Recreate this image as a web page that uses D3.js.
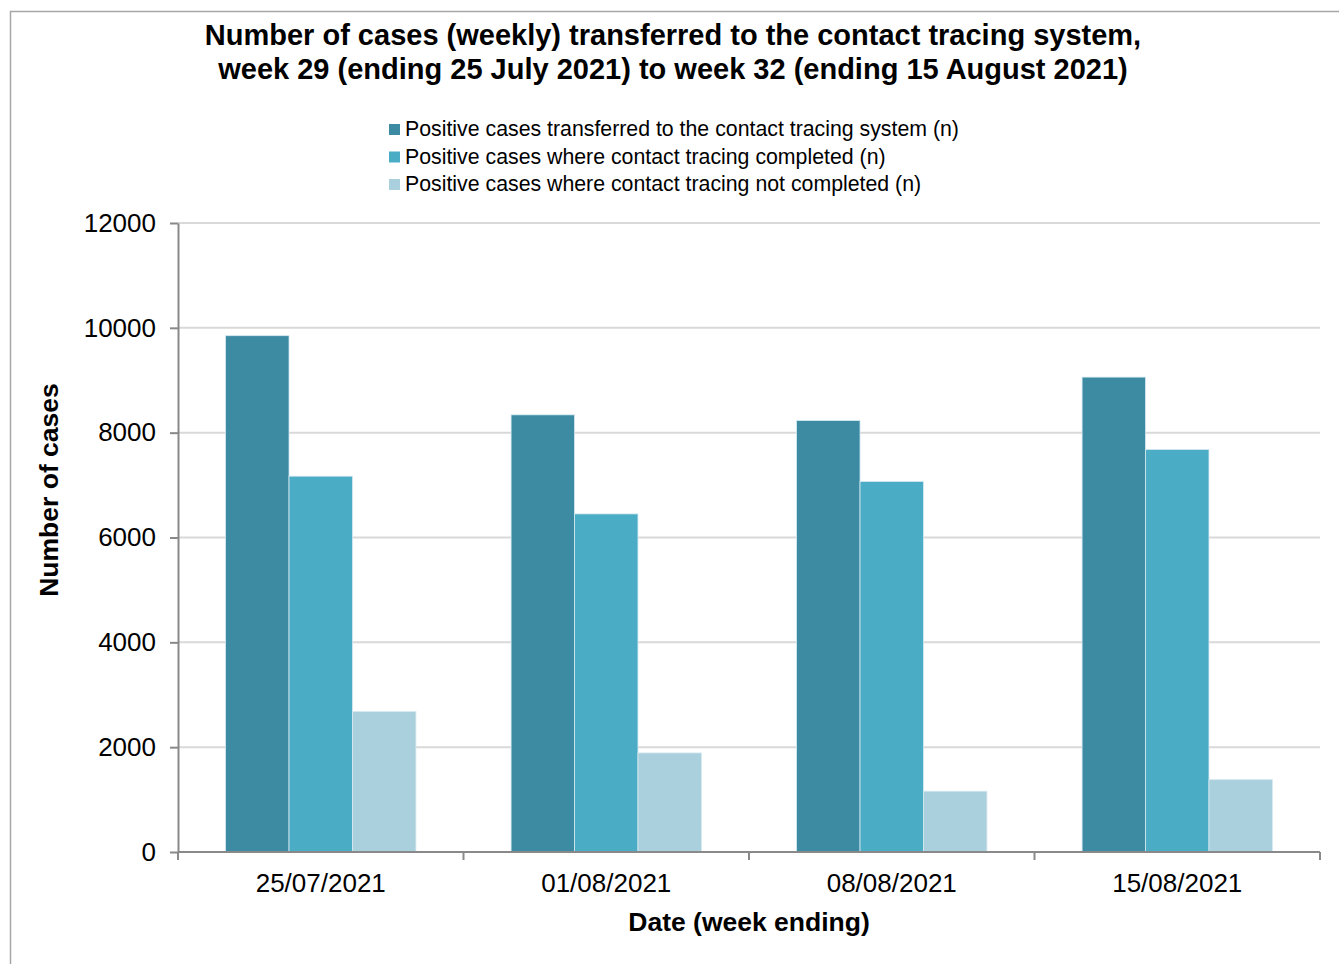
<!DOCTYPE html>
<meta charset="utf-8">
<style>
body { margin: 0; background: #fff; }
text { font-family: "Liberation Sans", Arial, sans-serif; fill: #000; }
.grid line { stroke: #d9d9d9; stroke-width: 2px; }
.axis path, .axis line { stroke: #898989; stroke-width: 2px; }
</style>
<body>
<script src="https://d3js.org/d3.v7.min.js"></script>
<script>

    // data
    let weeks = ["25/07/2021", "01/08/2021", "08/08/2021", "15/08/2021"];
    let seriesNames = [
        "Positive cases transferred to the contact tracing system (n)",
        "Positive cases where contact tracing completed (n)",
        "Positive cases where contact tracing not completed (n)"
    ];
    let transferred = [9850, 8340, 8230, 9060];
    let completed = [7170, 6450, 7070, 7680];
    let notCompleted = [2680, 1890, 1160, 1380];
    let yTicks = [0, 2000, 4000, 6000, 8000, 10000, 12000];
    let colours = ["#3c8ba3", "#4bacc6", "#aacfdd"];

    let seriesValues = [transferred, completed, notCompleted];

    let W = 1339, H = 964;
    let margin = {top: 223, right: 19, bottom: 112, left: 178},
        width = W - margin.left - margin.right,
        height = H - margin.top - margin.bottom;

    let svg = d3.select("body").append("svg")
        .attr("width", W)
        .attr("height", H);

    // outer frame
    svg.append("rect")
        .attr("x", 10.5).attr("y", 11.5)
        .attr("width", W + 10).attr("height", H + 10)
        .attr("fill", "none")
        .attr("stroke", "#a6a6a6")
        .attr("stroke-width", 1.5);

    let g = svg.append("g")
        .attr("transform", "translate(" + margin.left + "," + margin.top + ")");

    let x0 = d3.scaleBand().domain(weeks).range([0, width]).paddingInner(0).paddingOuter(0);
    let x1 = d3.scaleBand().domain(d3.range(seriesNames.length))
        .range([0, x0.bandwidth()]).paddingOuter(0.75).paddingInner(0);
    let y = d3.scaleLinear().domain([0, 12000]).range([height, 0]);

    // gridlines
    g.append("g").attr("class", "grid")
        .selectAll("line")
        .data(yTicks.filter(d => d > 0))
        .enter().append("line")
        .attr("x1", 0).attr("x2", width)
        .attr("y1", d => y(d)).attr("y2", d => y(d));

    // bars
    let groups = g.selectAll(".week")
        .data(weeks)
        .enter().append("g")
        .attr("transform", d => "translate(" + x0(d) + ",0)");

    groups.selectAll("rect")
        .data((d, i) => seriesValues.map((s, k) => ({k: k, v: s[i]})))
        .enter().append("rect")
        .attr("x", d => x1(d.k))
        .attr("width", x1.bandwidth())
        .attr("y", d => y(d.v))
        .attr("height", d => height - y(d.v))
        .attr("fill", d => colours[d.k])
        .attr("stroke", "#d6e9f0")
        .attr("stroke-width", 0.8);

    // y axis
    let yAxis = g.append("g").attr("class", "axis")
        .call(d3.axisLeft(y).tickValues(yTicks).tickFormat(d3.format("d"))
            .tickSize(8).tickPadding(14).tickSizeOuter(0));
    yAxis.selectAll("text").style("font-size", "26px");

    // x axis with ticks on category boundaries
    let xAxis = g.append("g").attr("class", "axis")
        .attr("transform", "translate(0," + height + ")")
        .call(d3.axisBottom(x0).tickSize(0).tickPadding(22));
    xAxis.select(".domain").remove();
    xAxis.selectAll("text").style("font-size", "26px");

    let bounds = weeks.map(d => x0(d)).concat([width]);
    let xline = g.append("g").attr("class", "axis").attr("transform", "translate(0," + height + ")");
    xline.append("path").attr("d", "M0,0H" + width);
    xline.selectAll("line").data(bounds).enter().append("line")
        .attr("x1", d => d).attr("x2", d => d)
        .attr("y1", 0).attr("y2", 8);

    // titles
    let title = svg.append("text")
        .attr("text-anchor", "middle")
        .style("font-size", "29px").style("font-weight", "bold");
    title.append("tspan").attr("x", 673).attr("y", 45)
        .text("Number of cases (weekly) transferred to the contact tracing system,");
    title.append("tspan").attr("x", 673).attr("y", 79)
        .text("week 29 (ending 25 July 2021) to week 32 (ending 15 August 2021)");

    svg.append("text")
        .attr("x", margin.left + width / 2)
        .attr("y", 931)
        .attr("text-anchor", "middle")
        .style("font-size", "26.5px").style("font-weight", "bold")
        .text("Date (week ending)");

    svg.append("text")
        .attr("transform", "translate(58,490) rotate(-90)")
        .attr("text-anchor", "middle")
        .style("font-size", "26.5px").style("font-weight", "bold")
        .text("Number of cases");

    // legend
    let legend = svg.append("g").attr("transform", "translate(389,129)");
    let items = legend.selectAll("g").data(seriesNames).enter().append("g")
        .attr("transform", (d, i) => "translate(0," + (i * 27.5) + ")");
    items.append("rect")
        .attr("x", 0).attr("y", -5).attr("width", 11).attr("height", 11)
        .attr("fill", (d, i) => colours[i]);
    items.append("text")
        .attr("x", 16).attr("y", 7)
        .style("font-size", "21.3px")
        .text(d => d);

</script>
</body>
